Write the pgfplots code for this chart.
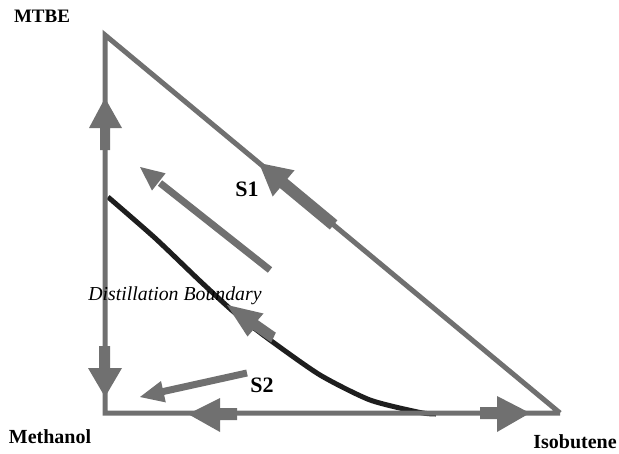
\documentclass[border=0pt]{standalone}
\usepackage{pgfplots}
\pgfplotsset{compat=1.18}
\usepackage{fontspec}
\setmainfont{Liberation Serif}
\definecolor{agray}{RGB}{112,112,112}
\definecolor{curveblk}{RGB}{30,30,30}
\begin{document}
\begin{tikzpicture}
\begin{axis}[
  scale only axis, width=619bp, height=454bp,
  xmin=0, xmax=619, ymin=0, ymax=454, y dir=reverse,
  hide axis, clip=false]
% distillation boundary
\addplot[curveblk, line width=5bp, smooth, tension=0.4] coordinates {
 (108,197) (155,238) (200,281) (235,313) (270,340) (320,375) (370,400) (420,412.5) (436,414)};
% triangle edges
\addplot[agray, line width=5bp, line join=miter] coordinates {(560,413) (105,413) (105,35) (560,413)};
% left edge up arrow
\addplot[agray, fill=agray, draw=none] coordinates {(100,150) (110,150) (110,128) (122,128) (105,98) (89,128) (100,128)} -- cycle;
% left edge down arrow
\addplot[agray, fill=agray, draw=none] coordinates {(99,346) (110,346) (110,368) (122,368) (105,397) (88,368) (99,368)} -- cycle;
% bottom left arrow
\addplot[agray, fill=agray, draw=none] coordinates {(237,408) (237,420) (220,420) (220,432) (188,414) (220,398) (220,408)} -- cycle;
% bottom right arrow
\addplot[agray, fill=agray, draw=none] coordinates {(480,407) (480,419) (497,419) (497,432) (530,413) (497,396) (497,407)} -- cycle;
% hypotenuse arrow
\addplot[agray, fill=agray, draw=none] coordinates {(287.4,178.8) (294.5,170.3) (259,163) (272.7,196.5) (279.8,188.0) (329.8,229.5) (337.4,220.3)} -- cycle;
% inner S1 arrow
\addplot[agray, line width=7bp] coordinates {(270,270) (160,183)};
\addplot[agray, fill=agray, draw=none] coordinates {(165.6,173.3) (140,167) (152.0,190.5)} -- cycle;
% arrow on boundary
\addplot[agray, fill=agray, draw=none] coordinates {(257.8,320.1) (263.5,313.5) (227,305) (247.5,336.5) (253.2,329.9) (271.2,342.5) (275.8,332.7)} -- cycle;
% S2 arrow
\addplot[agray, line width=7bp] coordinates {(247,373) (161,392)};
\addplot[agray, fill=agray, draw=none] coordinates {(165.8,402.4) (140,397) (161.0,381.0)} -- cycle;
% labels
\node[font=\fontsize{19bp}{22bp}\selectfont\bfseries] at (axis cs:42,16) {MTBE};
\node[font=\fontsize{20bp}{24bp}\selectfont\bfseries] at (axis cs:50,437) {Methanol};
\node[font=\fontsize{20bp}{24bp}\selectfont\bfseries] at (axis cs:575,442) {Isobutene};
\node[font=\fontsize{22bp}{26bp}\selectfont\bfseries] at (axis cs:247,189) {S1};
\node[font=\fontsize{22bp}{26bp}\selectfont\bfseries] at (axis cs:262,385) {S2};
\node[font=\fontsize{19.8bp}{23bp}\selectfont\itshape] at (axis cs:175,296) {Distillation Boundary};
\end{axis}
\pgfresetboundingbox
\path (0,0) rectangle (619bp,454bp);
\end{tikzpicture}
\end{document}
